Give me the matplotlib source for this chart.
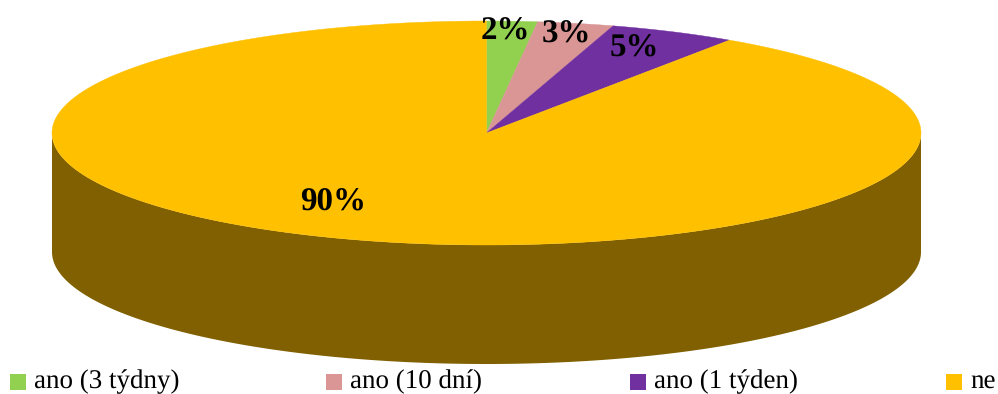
import numpy as np
import matplotlib
matplotlib.use("Agg")
import matplotlib.pyplot as plt
import matplotlib.patches as pat

plt.rcParams['font.family'] = ['Liberation Serif', 'DejaVu Serif']
plt.rcParams['text.hinting'] = 'none'
plt.rcParams['text.hinting_factor'] = 1

labels = ["ano (3 týdny)", "ano (10 dní)", "ano (1 týden)", "ne"]
values = [2, 3, 5, 90]
colors = ["#92D050", "#D99694", "#7030A0", "#FFC000"]
side_color = "#806000"
value_labels = ["2%", "3%", "5%", "90%"]

W, H = 998, 394
cx, cy = 486.5, 133
rx, ry = 434.5, 112
depth = 119
persp = 0.06


def warp(a):
    # far side of the disc is foreshortened by the 3D view
    if a <= np.pi / 2:
        return np.arcsin(np.sin(a) * (1 - persp * np.cos(a)))
    return a


fig = plt.figure(figsize=(W / 100, H / 100), dpi=100)
ax = fig.add_axes([0, 0, 1, 1])
ax.set_xlim(0, W)
ax.set_ylim(H, 0)
ax.axis('off')

# side wall of the disc
t = np.linspace(0, np.pi, 300)
x = cx + rx * np.cos(t)
y = cy + ry * np.sin(t)
wall = np.concatenate([np.column_stack([x, y]), np.column_stack([x[::-1], y[::-1] + depth])])
ax.add_patch(pat.Polygon(wall, closed=True, fc=side_color, ec='none'))

# top face, clockwise from 12 o'clock
start = 0.0
for v, c in zip(values, colors):
    end = start + v / 100 * 2 * np.pi
    a = np.linspace(warp(start), warp(end), 300)
    px = cx + rx * np.sin(a)
    py = cy - ry * np.cos(a)
    pts = np.vstack([[cx, cy], np.column_stack([px, py])])
    ax.add_patch(pat.Polygon(pts, closed=True, fc=c, ec=c, lw=0.3))
    start = end

# percentage labels
label_pos = [(505, 40), (567, 43), (634, 57), (333.5, 211)]
for (lx, ly), s in zip(label_pos, value_labels):
    ax.text(lx, ly, s, ha='center', va='baseline', fontsize=23.5, fontweight='bold', color='black')

# legend
legend_x = [10, 326, 630, 946]
for lx, s, c in zip(legend_x, labels, colors):
    ax.add_patch(pat.Rectangle((lx, 374), 16, 16, fc=c, ec='none'))
    ax.text(lx + 24, 388, s, ha='left', va='baseline', fontsize=19.2, color='black')

fig.savefig('out.png', dpi=100)
